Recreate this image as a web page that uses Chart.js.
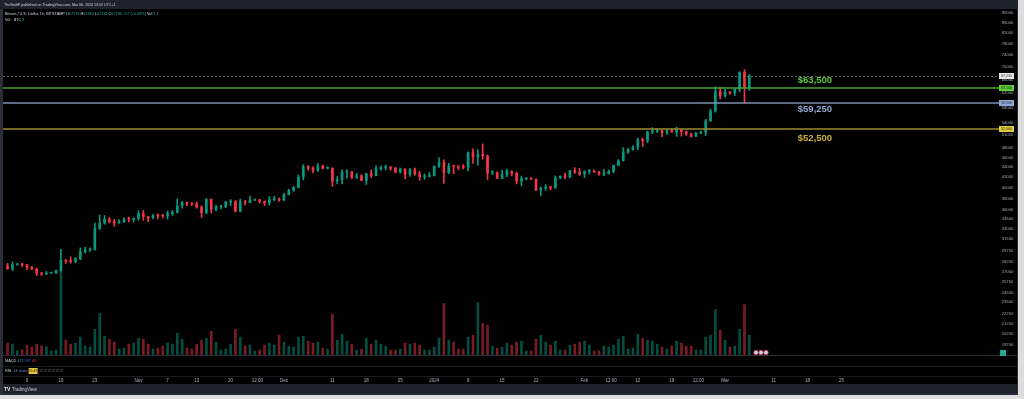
<!DOCTYPE html>
<html>
<head>
<meta charset="utf-8">
<script src="https://cdn.jsdelivr.net/npm/chart.js@4.4.1/dist/chart.umd.min.js"></script>
<style>
  html, body { margin: 0; padding: 0; background: #dcdcdc; }
  canvas { display: block; }
</style>
</head>
<body>
<canvas id="btcChart" width="1024" height="399"></canvas>
<script>
// BTC/USD daily candles, Oct 5 2023 -> Mar 6 2024
const closes = [
  // Oct 5-31
  27410, 27950, 27960, 27920, 27590, 27390, 26870, 26760, 26860, 26860, 27160, 28500, 28410, 28330,
  28720, 29680, 29920, 30000, 33090, 33900, 34500, 34160, 33900, 34090, 34540, 34480, 34660,
  // Nov
  35420, 34940, 34730, 35080, 35050, 35040, 35420, 35630, 36700, 37310,
  37130, 37070, 36490, 35550, 37880, 36160, 36590, 36590, 37390, 37470,
  35810, 37420, 37290, 37720, 37800, 37480, 37250, 37830, 37850, 37720,
  // Dec
  38690, 39470, 39980, 41990, 44080, 43770, 43290, 44170, 43720, 43790,
  41240, 41450, 42890, 43020, 41930, 42240, 41360, 42660, 42260, 43650,
  43860, 43990, 43740, 43010, 43600, 42520, 43440, 42580, 42070, 42140, 42280,
  // Jan
  44180, 44950, 42850, 44180, 44160, 43970, 43940, 46970, 46120, 46650,
  46340, 42780, 42840, 41730, 42510, 43150, 42740, 41260, 41620, 41670,
  41550, 39510, 39850, 40080, 39930, 41820, 42120, 42030, 43300, 42950, 42580,
  // Feb
  43080, 43190, 43010, 42580, 42660, 43090, 44320, 45300, 47130, 47750,
  48290, 49960, 49700, 51810, 51930, 52160, 51660, 52120, 51780, 52280,
  51850, 51300, 50730, 51570, 51730, 54480, 57060, 62500, 61190,
  // Mar 1-6
  62400, 62030, 63130, 68330, 63800, 67230
];
const highs = [
  28120, 28290, 28030, 28100, 27990, 27730, 27480, 26940, 27100, 26980, 27290, 30000, 28600, 28980,
  28880, 30210, 30330, 30200, 33900, 35200, 35100, 34800, 34480, 34470, 34740, 34850, 34720,
  35900, 35950, 34940, 35290, 35380, 35300, 35880, 35980, 37960, 37500,
  37400, 37200, 37400, 36760, 37970, 37930, 36820, 36830, 37520, 37800,
  37650, 37880, 37660, 38420, 37900, 37830, 37580, 38380, 38430, 38130,
  38960, 39690, 40200, 42420, 44470, 44300, 44030, 44700, 44360, 44050,
  43800, 42100, 43430, 43400, 43080, 42700, 42440, 42750, 43400, 44250,
  44250, 44380, 44120, 43920, 43780, 43620, 43670, 43800, 43130, 42600, 42890,
  44200, 45900, 45500, 44750, 44320, 44230, 44500, 47220, 47890, 47650,
  48970, 46500, 43250, 43030, 43350, 43580, 43190, 42930, 42200, 41870,
  41880, 41650, 40130, 40540, 40270, 42200, 42230, 42800, 43330, 43850, 43700,
  43250, 43480, 43370, 43110, 43500, 43400, 44370, 45570, 48170, 48000,
  48560, 50330, 50350, 52000, 52820, 52560, 52180, 52380, 52480, 52950,
  52360, 52030, 51520, 51680, 51950, 54900, 57550, 63900, 63680,
  63150, 62420, 63220, 68500, 69200, 67600
];
const lows = [
  27350, 27180, 27860, 27690, 27300, 27300, 26560, 26560, 26690, 26800, 26820, 27120, 28100, 28130,
  28180, 28600, 29470, 29700, 29900, 32900, 33700, 33900, 33400, 33870, 34000, 34080, 34090,
  34350, 34330, 34110, 34580, 34550, 34750, 34550, 35120, 35530, 36350,
  36760, 36720, 36330, 34800, 35360, 35550, 35860, 36220, 36400, 36770,
  35680, 35690, 36900, 37250, 37600, 37180, 36760, 36870, 37620, 37500,
  37620, 38650, 39290, 39980, 41420, 43350, 42820, 43080, 43580, 43580,
  40230, 40680, 40650, 41800, 41690, 41680, 41270, 40550, 41850, 42200,
  43300, 43420, 43310, 42800, 42760, 41660, 42110, 42350, 41330, 41540, 41990,
  42180, 43900, 40750, 42630, 42640, 43450, 43600, 43200, 44750, 44350,
  45620, 41500, 42440, 41720, 41720, 42050, 42200, 40650, 40280, 41460,
  41490, 39430, 38510, 39480, 39550, 39830, 41640, 41620, 41800, 42700, 42300,
  41880, 42580, 42880, 42360, 42260, 42570, 42790, 44320, 45250, 46870,
  47550, 47700, 48370, 49250, 51330, 51620, 50650, 51160, 51660, 50730,
  50780, 50960, 50520, 50700, 51280, 50900, 54450, 56750, 60370,
  60790, 61680, 61340, 62400, 59250, 62800
];
const volumes = [
  1200, 1100, 450, 500, 1000, 800, 1100, 900, 850, 400, 500, 8600, 1500, 1100,
  1200, 1800, 900, 800, 2600, 4200, 1900, 1600, 1300, 600, 700, 1100, 1200,
  1700, 1600, 1100, 600, 700, 900, 1200, 1100, 2200, 1600,
  700, 600, 1100, 1500, 1700, 2400, 1300, 500, 600, 1100,
  2600, 1800, 900, 1000, 400, 500, 1000, 1200, 1000, 2000,
  1300, 900, 800, 1800, 1900, 1400, 1200, 1300, 700, 600,
  4100, 1500, 2100, 1400, 1100, 500, 600, 1700, 1100, 1500,
  1100, 900, 500, 500, 600, 1200, 1100, 1200, 1000, 500, 500,
  800, 1700, 5200, 1500, 1300, 600, 600, 1800, 2000, 5300,
  3200, 3000, 900, 700, 800, 1200, 1000, 1300, 1400, 400,
  400, 1600, 2000, 1300, 1000, 1400, 500, 500, 1000, 1100, 1300,
  1400, 1000, 400, 400, 900, 800, 1000, 1600, 1900, 600,
  700, 2100, 1700, 1500, 1400, 1100, 800, 600, 900, 1400,
  1200, 900, 900, 500, 500, 1800, 2000, 4600, 2500,
  1500, 800, 900, 2600, 5100, 2000
];
const firstOpen = 27780;
const firstDay = -4; // Oct 5, counted in days from Oct 9 2023

// time axis labels (days from Oct 9 2023)
const dayTicks = [0, 7, 14, 23, 29, 35, 42, 47.5, 53, 63, 70, 77, 84, 91, 98, 105, 115, 120.5, 126, 133, 138.5, 144, 154, 161, 168];
const dayLabels = ['9', '16', '23', 'Nov', '7', '13', '20', '12:00', 'Dec', '11', '18', '25', '2024', '8', '15', '22', 'Feb', '12:00', '12', '19', '12:00', 'Mar', '11', '18', '25'];
// price axis labels
const priceTicks = [90000, 86000, 82000, 78000, 74000, 70000, 66000, 62000, 58000, 54000, 51000, 48000, 46000, 44000,
  42000, 40000, 38000, 36000, 34500, 33000, 31500, 29750, 28250, 27000, 25750, 24500, 23500, 22250, 21250, 20250, 19250];

// horizontal levels drawn on the chart
const levels = [63500, 59250, 52500];
const levelNames = ['$63,500', '$59,250', '$52,500'];
const levelLine = ['#46a830', '#7b8fb6', '#9a8a2c'];
const levelText = ['#62c843', '#93aad4', '#c8b33b'];
const levelBox = ['#5dcf36', '#8fa9d8', '#e0cb3c'];

const upColor = '#089981', downColor = '#f23645';
const FONT = '"Liberation Sans", Arial, sans-serif';

const opens = closes.map((c, i) => (i === 0 ? firstOpen : closes[i - 1]));
const isUp = closes.map((c, i) => c >= opens[i]);
const candleColors = isUp.map(u => (u ? upColor : downColor));
const volColors = isUp.map(u => (u ? 'rgba(8,153,129,0.5)' : 'rgba(242,54,69,0.5)'));

const bodies = closes.map((c, i) => ({ x: firstDay + i, y: [opens[i], c] }));
const wicks = closes.map((c, i) => ({ x: firstDay + i, y: [lows[i], highs[i]] }));
const volBars = volumes.map((v, i) => ({ x: firstDay + i, y: v }));

function txt(ctx, s, x, y, color, font, align) {
  ctx.fillStyle = color;
  ctx.font = font;
  ctx.textAlign = align || 'left';
  ctx.textBaseline = 'middle';
  ctx.fillText(s, x, y);
  return ctx.measureText(s).width;
}
function row(ctx, parts, x, y, size) {
  parts.forEach(p => { x += txt(ctx, p[0], x, y, p[1], size + 'px ' + FONT); });
  return x;
}
function axisBox(ctx, y, fill, label, color) {
  ctx.fillStyle = fill;
  ctx.fillRect(999, Math.round(y) - 3, 15, 6);
  txt(ctx, label, 1006.5, Math.round(y), color, '3.5px ' + FONT, 'center');
}

const tvFrame = {
  id: 'tvFrame',
  beforeDraw(chart) {
    const ctx = chart.ctx;
    ctx.save();
    ctx.fillStyle = '#dcdcdc';
    ctx.fillRect(0, 0, 1024, 399);
    ctx.fillStyle = '#2a2e39';
    ctx.fillRect(0, 0, 1018, 395);
    ctx.fillStyle = '#1e222d';
    ctx.fillRect(0, 0, 1018, 9);
    ctx.fillStyle = '#000';
    ctx.fillRect(3, 9, 1014, 375);
    ctx.fillStyle = '#1e222d';
    ctx.fillRect(3, 384, 1014, 10);
    ctx.fillStyle = '#2a2e39';
    ctx.fillRect(3, 355, 1014, 1);
    ctx.fillStyle = '#191b22';
    ctx.fillRect(3, 366, 1014, 1);
    ctx.fillRect(3, 376, 1014, 1);
    ctx.restore();
  },
  beforeDatasetsDraw(chart) {
    const ctx = chart.ctx, y = chart.scales.y, a = chart.chartArea;
    const py = Math.round(y.getPixelForValue(closes[closes.length - 1])) + 0.5;
    ctx.save();
    ctx.strokeStyle = '#5d606b';
    ctx.lineWidth = 1;
    ctx.setLineDash([2, 2]);
    ctx.beginPath();
    ctx.moveTo(a.left, py);
    ctx.lineTo(a.right, py);
    ctx.stroke();
    ctx.restore();
  },
  afterDatasetsDraw(chart) {
    const ctx = chart.ctx, x = chart.scales.x, y = chart.scales.y, a = chart.chartArea;
    const offsets = [-8, 6, 9];
    ctx.save();
    levels.forEach((v, i) => {
      const py = y.getPixelForValue(v);
      ctx.strokeStyle = levelLine[i];
      ctx.lineWidth = 1.6;
      ctx.beginPath();
      ctx.moveTo(a.left, py);
      ctx.lineTo(a.right + 1, py);
      ctx.stroke();
      txt(ctx, levelNames[i], x.getPixelForValue(159), py + offsets[i], levelText[i], 'bold 9.5px ' + FONT);
    });
    ctx.restore();
  },
  afterDraw(chart) {
    const ctx = chart.ctx, x = chart.scales.x, y = chart.scales.y;
    const axisX = (y.left + y.right) / 2;
    ctx.save();
    // axis labels, placed with the chart's scales
    dayTicks.forEach((d, i) => txt(ctx, dayLabels[i], x.getPixelForValue(d), 380.5, '#b2b5be', '4.5px ' + FONT, 'center'));
    priceTicks.forEach(v => txt(ctx, String(v), axisX, y.getPixelForValue(v), '#a3a6af', '4.2px ' + FONT, 'center'));
    // axis price boxes
    axisBox(ctx, y.getPixelForValue(closes[closes.length - 1]), '#e6e6e6', '67,230', '#333');
    levels.forEach((v, i) => axisBox(ctx, y.getPixelForValue(v), levelBox[i], v.toLocaleString('en-US'), '#1a1a1a'));
    ctx.fillStyle = '#22ab94';
    ctx.fillRect(1000, 350, 6, 6);
    // header and legend
    txt(ctx, 'TheSwiftF published on TradingView.com, Mar 06, 2024 13:59 UTC+1', 4, 5, '#d1d4dc', '3.6px ' + FONT);
    const w = '#d1d4dc', g = '#26a69a';
    row(ctx, [['Bitcoin / U.S. Dollar, 1h, BITSTAMP ', w], ['O', w], ['67173 ', g], ['H', w], ['67383 ', g],
      ['L', w], ['67134 ', g], ['C', w], ['67230 ', g], ['+57 (+0.08%) ', g], ['Vol ', w], ['2.1', g]], 5, 14, 3.8);
    row(ctx, [['Vol · BTC ', w], ['3', g]], 5, 19.5, 3.8);
    // indicator panes
    row(ctx, [['MACD ', w], ['412 ', '#26a69a'], ['367 ', '#2962ff'], ['45', '#f23645']], 5, 360.5, 3.8);
    const rx = row(ctx, [['RSI  ', w], ['14 close ', '#7e8fd0']], 5, 371, 3.8);
    ctx.fillStyle = '#e3c53a';
    ctx.fillRect(rx, 368, 9, 6);
    txt(ctx, '55.49', rx + 4.5, 371, '#111', '3.5px ' + FONT, 'center');
    txt(ctx, '∅ ∅ ∅ ∅ ∅ ∅', rx + 11, 371, '#868993', '4px ' + FONT);
    // event markers near the last candle
    [756, 761, 766].forEach(cx => {
      ctx.beginPath();
      ctx.arc(cx, 352.5, 2.2, 0, Math.PI * 2);
      ctx.fillStyle = '#c9d4f5';
      ctx.fill();
      ctx.strokeStyle = '#e0404c';
      ctx.lineWidth = 0.8;
      ctx.stroke();
    });
    // footer
    txt(ctx, 'TV', 4, 389.5, '#e8e8e8', 'bold 5px ' + FONT);
    txt(ctx, 'TradingView', 12, 389.5, '#c9cbd1', '4.5px ' + FONT);
    ctx.restore();
  }
};

new Chart(document.getElementById('btcChart'), {
  type: 'bar',
  data: {
    datasets: [
      { data: bodies, backgroundColor: candleColors, barThickness: 2, minBarLength: 1, grouped: false, yAxisID: 'y' },
      { data: wicks, backgroundColor: candleColors, barThickness: 1, grouped: false, yAxisID: 'y' },
      { data: volBars, backgroundColor: volColors, barThickness: 2, grouped: false, yAxisID: 'yv' }
    ]
  },
  options: {
    responsive: false,
    animation: false,
    devicePixelRatio: 1,
    layout: { padding: { left: 3, right: 7, top: 9, bottom: 14 } },
    plugins: { legend: { display: false }, tooltip: { enabled: false } },
    scales: {
      x: {
        type: 'linear', min: -4.95, max: 200.3, offset: false,
        grid: { display: false }, border: { display: false },
        afterFit: s => { s.height = 30; },
        ticks: { display: false }
      },
      y: {
        type: 'logarithmic', position: 'right', min: 18360, max: 91700,
        grid: { display: false }, border: { display: false },
        afterFit: s => { s.width = 19; },
        ticks: { display: false }
      },
      yv: { type: 'linear', display: false, min: 0, max: 35000 }
    }
  },
  plugins: [tvFrame]
});
</script>
</body>
</html>
